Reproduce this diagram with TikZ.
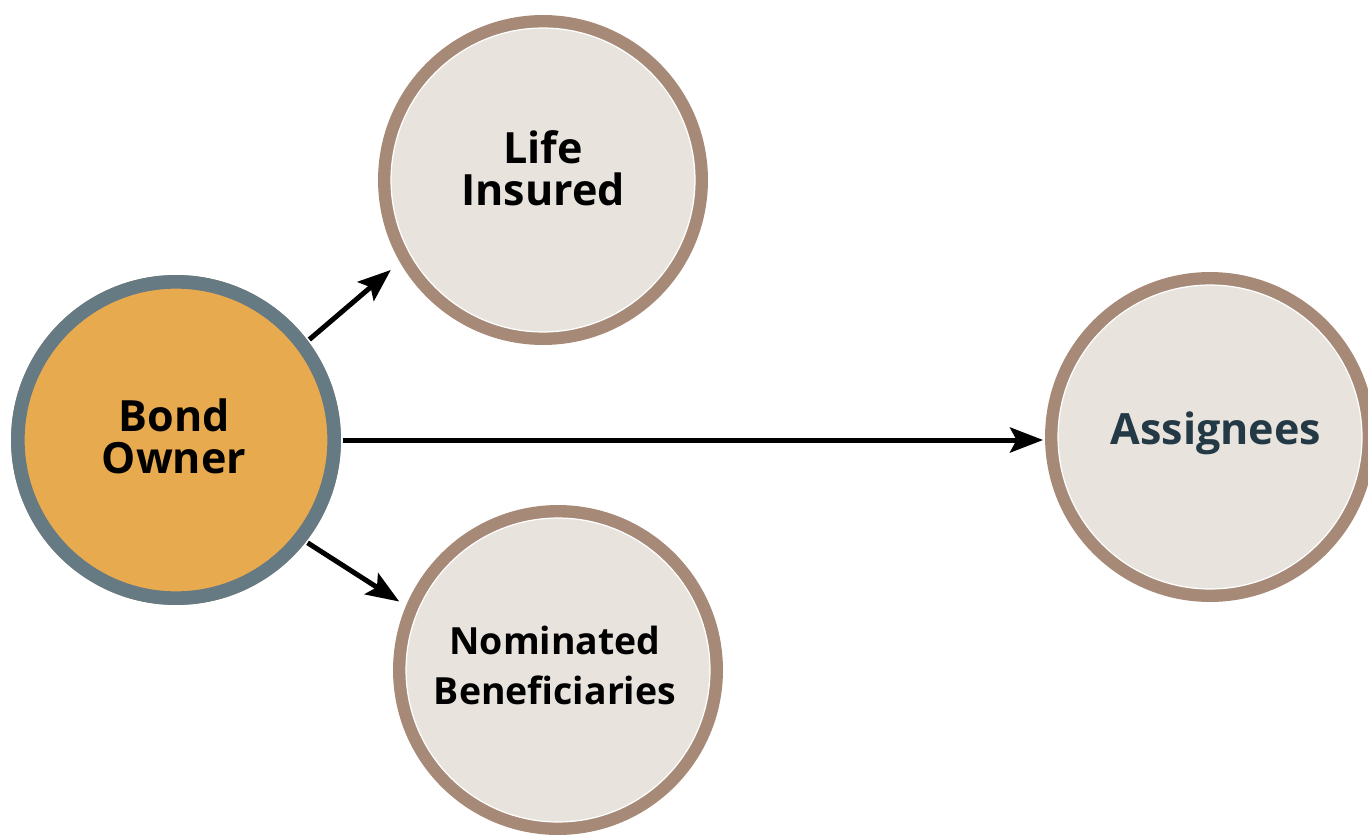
\documentclass[tikz,border=0pt]{standalone}
\usepackage{fontspec}
\setmainfont{Open Sans}
\usetikzlibrary{arrows.meta}

\definecolor{ringgray}{HTML}{667A84}
\definecolor{ownerorange}{HTML}{E8AA4E}
\definecolor{ringbrown}{HTML}{A68A77}
\definecolor{partybeige}{HTML}{E8E3DD}
\definecolor{labelslate}{HTML}{233A46}

\tikzset{
    party/.style={shape=circle, inner sep=0, minimum size=6.08cm, outer sep=0.3cm,
        fill=partybeige, draw=white, line width=0.7pt,
        preaction={draw=ringbrown, line width=0.52cm},
        align=center, font=\fontsize{24.5}{24}\selectfont\bfseries},
    owner/.style={party, fill=ownerorange, draw=ringgray,
        preaction={draw=ringgray, line width=0.52cm}},
    link/.style={-{Stealth[length=0.66cm, width=0.5cm, inset=0.13cm]}, line width=0.1cm}
}

\begin{document}
\begin{tikzpicture}[x=0.02cm, y=-0.02cm]

    \useasboundingbox (0, 0) rectangle (1368, 835);

    % Owner
    \node[owner] (owner) at (176, 440) {};

    % Parties
    \node[party] (insured) at (543, 180) {};
    \node[party] (nominees) at (558, 670) {};
    \node[party] (assignees) at (1210, 437) {};

    % Labels
    \node[align=center, font=\fontsize{24.5}{24}\selectfont\bfseries]
        (ownertext) at (174, 436) {Bond\\Owner};
    \node[align=center, font=\fontsize{24.5}{24}\selectfont\bfseries]
        (insuredtext) at (543, 168) {Life\\Insured};
    \node[align=center, font=\fontsize{21.3}{28.5}\selectfont\bfseries]
        (nomineestext) at (555, 665) {Nominated\\Beneficiaries};
    \node[font=\fontsize{24.5}{24}\selectfont\bfseries, text=labelslate]
        (assigneestext) at (1216, 433) {Assignees};

    % Arrows
    \draw[link, shorten >=0.2cm] (owner.37) -- (insured.210);
    \draw[link] (owner.east) -- (owner.east -| assignees.west);
    \draw[link, shorten >=0.12cm] (owner.322) -- (nominees.157);

\end{tikzpicture}
\end{document}
